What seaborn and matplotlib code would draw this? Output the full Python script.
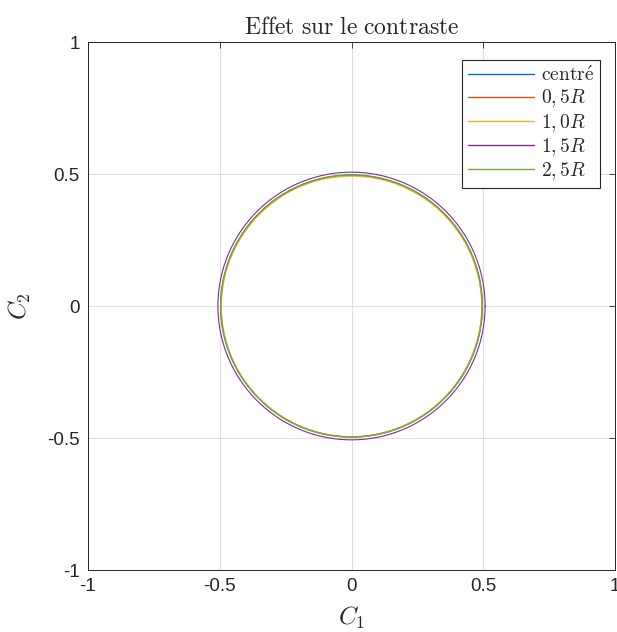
import numpy as np
import pandas as pd
import matplotlib
matplotlib.use('Agg')
import matplotlib.pyplot as plt
from matplotlib.lines import Line2D
import seaborn as sns

# series: every curve is a circle around the origin
labels = ['centré', '0,5R', '1,0R', '1,5R', '2,5R']
legend_text = [r'$\mathrm{centr\acute{e}}$', r'$0,5R$', r'$1,0R$', r'$1,5R$', r'$2,5R$']
radius = [0.497, 0.495, 0.494, 0.507, 0.496]
center_x = [0.0, 0.0, 0.0, 0.0, 0.0]
center_y = [0.0, 0.0, -0.002, 0.0, 0.0]
colors = ['#0072BD', '#D95319', '#EDB120', '#7E2F8E', '#77AC30']

ticks = [-1, -0.5, 0, 0.5, 1]
tick_labels = ['-1', '-0.5', '0', '0.5', '1']

sns.set_theme(style='white')
plt.rcParams['mathtext.fontset'] = 'cm'
plt.rcParams['font.family'] = ['Liberation Sans', 'DejaVu Sans']

# build a long table of points for each circle
theta = np.linspace(0, 2 * np.pi, 400)
rows = []
for lab, r, cx, cy in zip(labels, radius, center_x, center_y):
    rows.append(pd.DataFrame({'x': cx + r * np.cos(theta),
                              'y': cy + r * np.sin(theta),
                              'serie': lab}))
df = pd.concat(rows, ignore_index=True)

fig = plt.figure(figsize=(6.17, 6.32), dpi=100)
ax = fig.add_axes([0.1426, 0.0981, 0.8542, 0.8354])

sns.lineplot(data=df, x='x', y='y', hue='serie', hue_order=labels,
             palette=colors, sort=False, estimator=None,
             lw=0.8, legend=False, ax=ax)

ax.set_xlim(-1, 1)
ax.set_ylim(-1, 1)
ax.set_xticks(ticks)
ax.set_xticklabels(tick_labels)
ax.set_yticks(ticks)
ax.set_yticklabels(tick_labels)
ax.tick_params(direction='in', length=4, width=0.6, top=True, right=True,
               labelsize=13.5, colors='#262626', pad=6)
ax.grid(True, color='#dfdfdf', lw=0.8)
ax.set_axisbelow(True)
for s in ax.spines.values():
    s.set_color('#262626')
    s.set_linewidth(0.7)

ax.set_title(r'$\mathrm{Effet\ sur\ le\ contraste}$', fontsize=17, pad=6)
ax.set_xlabel(r'$C_1$', fontsize=18, labelpad=7)
ax.set_ylabel(r'$C_2$', fontsize=18, labelpad=10)

handles = [Line2D([0], [0], color=c, lw=1.0) for c in colors]
leg = ax.legend(handles, legend_text, loc='upper right',
                bbox_to_anchor=(0.9715, 0.966), fontsize=14,
                frameon=True, fancybox=False, framealpha=1, edgecolor='#262626',
                handlelength=3.4, handletextpad=0.35, labelspacing=0.12,
                borderpad=0.3, borderaxespad=0)
leg.get_frame().set_linewidth(0.8)

fig.savefig('out.png', dpi=100)
